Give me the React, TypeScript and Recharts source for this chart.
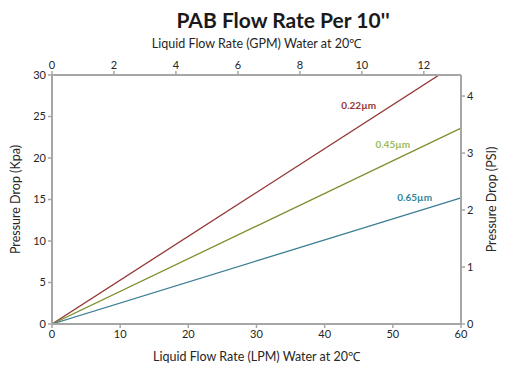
import React from "react";
import {
  LineChart,
  Line,
  XAxis,
  YAxis,
  ReferenceDot,
  Label,
} from "recharts";

const flowLpm = [0, 30, 60];
const flowGpm = [0, 6.6, 13.2];
const drop022 = [0, 15.85, 31.7];
const drop045 = [0, 11.8, 23.6];
const drop065 = [0, 7.6, 15.2];

const lpmTicks = [0, 10, 20, 30, 40, 50, 60];
const gpmTicks = [0, 2, 4, 6, 8, 10, 12];
const kpaTicks = [0, 5, 10, 15, 20, 25, 30];
const psiTicks = [0, 1, 2, 3, 4];

const seriesNames = ["0.22µm", "0.45µm", "0.65µm"];

const FONT = "Lato, 'Open Sans', sans-serif";
const AXIS = "#A6A6A6";
const TEXT = "#262626";

const data = flowLpm.map((x, i) => ({
  lpm: x,
  gpm: flowGpm[i],
  s022: drop022[i],
  s045: drop045[i],
  s065: drop065[i],
}));

const tick = { fill: TEXT, fontSize: 11, fontFamily: FONT };
const axisLine = { stroke: AXIS, strokeWidth: 2 };
const tickLine = { stroke: AXIS, strokeWidth: 1.5 };

export default function App() {
  return (
    <div style={{ position: "absolute", left: 0, top: 0, width: 516, height: 374, background: "#fff" }}>
      <div
        style={{
          position: "absolute",
          left: 0,
          width: 516,
          top: 7,
          textAlign: "center",
          fontFamily: FONT,
          fontWeight: 700,
          fontSize: 21,
          color: "#1a1a1a",
          paddingLeft: 50,
          boxSizing: "border-box",
        }}
      >
        PAB Flow Rate Per 10''
      </div>
      <LineChart
        width={516}
        height={374}
        data={data}
        margin={{ top: 0, right: 0, bottom: 0, left: 0 }}
      >
        <XAxis
          xAxisId="bottom"
          dataKey="lpm"
          type="number"
          domain={[0, 60]}
          ticks={lpmTicks}
          orientation="bottom"
          height={50}
          tick={tick}
          tickSize={4}
          axisLine={axisLine}
          tickLine={tickLine}
        >
          <Label
            value="Liquid Flow Rate (LPM) Water at 20℃"
            position="insideBottom"
            offset={13}
            style={{ fill: TEXT, fontSize: 12.5, fontFamily: FONT }}
          />
        </XAxis>
        <XAxis
          xAxisId="top"
          dataKey="gpm"
          type="number"
          orientation="top"
          domain={[0, 13.2]}
          ticks={gpmTicks}
          allowDataOverflow
          height={75}
          tick={tick}
          tickSize={4}
          axisLine={axisLine}
          tickLine={tickLine}
        >
          <Label
            value="Liquid Flow Rate (GPM) Water at 20℃"
            position="insideTop"
            offset={39}
            style={{ fill: TEXT, fontSize: 12.5, fontFamily: FONT }}
          />
        </XAxis>
        <YAxis
          yAxisId="kpa"
          orientation="left"
          type="number"
          domain={[0, 30]}
          ticks={kpaTicks}
          allowDataOverflow
          width={52}
          tick={tick}
          tickSize={4}
          axisLine={axisLine}
          tickLine={tickLine}
        >
          <Label
            value="Pressure Drop (Kpa)"
            angle={-90}
            position="insideLeft"
            offset={16}
            style={{ fill: TEXT, fontSize: 12.5, fontFamily: FONT, textAnchor: "middle" }}
          />
        </YAxis>
        <YAxis
          yAxisId="psi"
          orientation="right"
          type="number"
          domain={[0, 4.37]}
          ticks={psiTicks}
          allowDataOverflow
          width={55}
          tick={tick}
          tickSize={4}
          axisLine={axisLine}
          tickLine={tickLine}
        >
          <Label
            value="Pressure Drop (PSI)"
            angle={-90}
            position="insideRight"
            offset={24}
            style={{ fill: TEXT, fontSize: 12.5, fontFamily: FONT, textAnchor: "middle" }}
          />
        </YAxis>
        {/* invisible series so the GPM and PSI axes get their scales */}
        <Line
          xAxisId="top"
          yAxisId="psi"
          dataKey="gpm"
          stroke="none"
          dot={false}
          activeDot={false}
          legendType="none"
          isAnimationActive={false}
        />
        <Line
          xAxisId="bottom"
          yAxisId="kpa"
          dataKey="s022"
          name={seriesNames[0]}
          stroke="#953735"
          strokeWidth={1.3}
          dot={false}
          type="linear"
          isAnimationActive={false}
        />
        <Line
          xAxisId="bottom"
          yAxisId="kpa"
          dataKey="s045"
          name={seriesNames[1]}
          stroke="#7F8F2E"
          strokeWidth={1.3}
          dot={false}
          type="linear"
          isAnimationActive={false}
        />
        <Line
          xAxisId="bottom"
          yAxisId="kpa"
          dataKey="s065"
          name={seriesNames[2]}
          stroke="#3C7D95"
          strokeWidth={1.3}
          dot={false}
          type="linear"
          isAnimationActive={false}
        />
        <ReferenceDot xAxisId="bottom" yAxisId="kpa" x={45} y={26.3} r={0} stroke="none" fill="none">
          <Label value={seriesNames[0]} position="center" style={{ fill: "#953735", fontSize: 10, fontWeight: 700, fontFamily: FONT }} />
        </ReferenceDot>
        <ReferenceDot xAxisId="bottom" yAxisId="kpa" x={50} y={21.6} r={0} stroke="none" fill="none">
          <Label value={seriesNames[1]} position="center" style={{ fill: "#9BBB59", fontSize: 10, fontWeight: 700, fontFamily: FONT }} />
        </ReferenceDot>
        <ReferenceDot xAxisId="bottom" yAxisId="kpa" x={53.2} y={15.2} r={0} stroke="none" fill="none">
          <Label value={seriesNames[2]} position="center" style={{ fill: "#31859C", fontSize: 10, fontWeight: 700, fontFamily: FONT }} />
        </ReferenceDot>
      </LineChart>
    </div>
  );
}
